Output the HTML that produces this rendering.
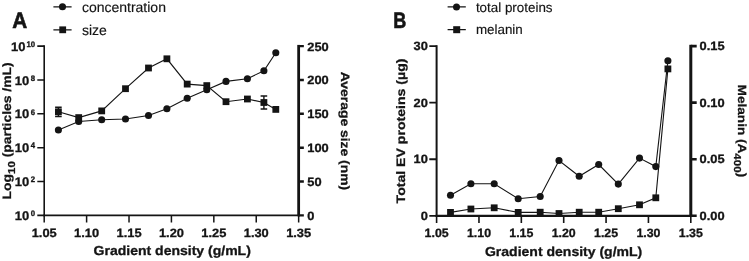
<!DOCTYPE html>
<html><head><meta charset="utf-8"><title>chart</title>
<style>
html,body{margin:0;padding:0;background:#fff;}
body{width:749px;height:261px;overflow:hidden;font-family:"Liberation Sans",sans-serif;}
svg{display:block;will-change:transform;opacity:0.999;}
text{font-family:"Liberation Sans",sans-serif;fill:#141414;text-rendering:geometricPrecision;}
.b,.t,.sp{stroke:#141414;stroke-width:0.3px;}
.pl{stroke:#141414;stroke-width:0.6px;}
.b{font-weight:bold;font-size:12px;}
.t{font-weight:bold;font-size:13px;}
.r{font-weight:bold;font-size:13.9px;stroke:#141414;stroke-width:0.3px;}
.lg{font-size:14px;stroke:#141414;stroke-width:0.15px;}
.pl{font-weight:bold;font-size:19.2px;}
</style></head><body>
<svg width="749" height="261" viewBox="0 0 749 261">
<rect width="749" height="261" fill="#fff"/>

<g stroke="#141414" fill="none"><path stroke-width="1.6" d="M44.2 45.30V216.20"/><path stroke-width="2.8" d="M298.65 44.90V216.20"/><path stroke-width="1.6" d="M43.40 215.4H300.05"/><path stroke-width="1.5" d="M44.20 215.4V222.6M86.61 215.4V222.6M129.02 215.4V222.6M171.42 215.4V222.6M213.83 215.4V222.6M256.24 215.4V222.6M298.65 215.4V222.6"/><path stroke-width="1.6" d="M37.300000000000004 46.10H44.2M37.300000000000004 79.96H44.2M37.300000000000004 113.82H44.2M37.300000000000004 147.68H44.2M37.300000000000004 181.54H44.2M37.300000000000004 215.40H44.2"/><path stroke-width="2.4" d="M298.65 46.10H303.84999999999997M298.65 79.96H303.84999999999997M298.65 113.82H303.84999999999997M298.65 147.68H303.84999999999997M298.65 181.54H303.84999999999997M298.65 215.40H303.84999999999997"/></g>
<text class="sp" transform="translate(35.1,46.85) scale(0.97,1)" text-anchor="end" font-weight="bold" font-size="8">10</text>
<text class="sp" transform="translate(25.50,50.75) scale(1.04,1)" text-anchor="end" font-weight="bold" font-size="12.5">10</text>
<text class="sp" transform="translate(35.1,80.71) scale(0.97,1)" text-anchor="end" font-weight="bold" font-size="8">8</text>
<text class="sp" transform="translate(29.20,84.61) scale(1.04,1)" text-anchor="end" font-weight="bold" font-size="12.5">10</text>
<text class="sp" transform="translate(35.1,114.57) scale(0.97,1)" text-anchor="end" font-weight="bold" font-size="8">6</text>
<text class="sp" transform="translate(29.20,118.47) scale(1.04,1)" text-anchor="end" font-weight="bold" font-size="12.5">10</text>
<text class="sp" transform="translate(35.1,148.43) scale(0.97,1)" text-anchor="end" font-weight="bold" font-size="8">4</text>
<text class="sp" transform="translate(29.20,152.33) scale(1.04,1)" text-anchor="end" font-weight="bold" font-size="12.5">10</text>
<text class="sp" transform="translate(35.1,182.29) scale(0.97,1)" text-anchor="end" font-weight="bold" font-size="8">2</text>
<text class="sp" transform="translate(29.20,186.19) scale(1.04,1)" text-anchor="end" font-weight="bold" font-size="12.5">10</text>
<text class="sp" transform="translate(35.1,216.15) scale(0.97,1)" text-anchor="end" font-weight="bold" font-size="8">0</text>
<text class="sp" transform="translate(29.20,220.05) scale(1.04,1)" text-anchor="end" font-weight="bold" font-size="12.5">10</text>
<text class="b" transform="translate(307.25,50.50) scale(1.07,1)" text-anchor="start">250</text>
<text class="b" transform="translate(307.25,84.36) scale(1.07,1)" text-anchor="start">200</text>
<text class="b" transform="translate(307.25,118.22) scale(1.07,1)" text-anchor="start">150</text>
<text class="b" transform="translate(307.25,152.08) scale(1.07,1)" text-anchor="start">100</text>
<text class="b" transform="translate(307.25,185.94) scale(1.07,1)" text-anchor="start">50</text>
<text class="b" transform="translate(307.25,219.80) scale(1.07,1)" text-anchor="start">0</text>
<text class="b" transform="translate(44.20,236.50) scale(1.07,1)" text-anchor="middle">1.05</text>
<text class="b" transform="translate(86.61,236.50) scale(1.07,1)" text-anchor="middle">1.10</text>
<text class="b" transform="translate(129.02,236.50) scale(1.07,1)" text-anchor="middle">1.15</text>
<text class="b" transform="translate(171.42,236.50) scale(1.07,1)" text-anchor="middle">1.20</text>
<text class="b" transform="translate(213.83,236.50) scale(1.07,1)" text-anchor="middle">1.25</text>
<text class="b" transform="translate(256.24,236.50) scale(1.07,1)" text-anchor="middle">1.30</text>
<text class="b" transform="translate(298.65,236.50) scale(1.07,1)" text-anchor="middle">1.35</text>
<text class="t" transform="translate(172.20,255.40) scale(1.078,1)" text-anchor="middle">Gradient density (g/mL)</text>
<text class="r" transform="translate(11.10,130.90) scale(0.87,1) rotate(-90)" text-anchor="middle">Log<tspan font-size="11.6" dy="4.2">10</tspan><tspan dy="-4.2"> (particles /mL)</tspan></text>
<text class="r" transform="translate(340.90,131.00) scale(0.87,1) rotate(90)" text-anchor="middle">Average size (nm)</text>
<text class="pl" style="font-size:22.3px" transform="translate(12.2,27.6) scale(0.93,1)">A</text>
<path d="M53.4 6.8H71.6M53.4 29.8H71.6" stroke="#141414" stroke-width="1.2"/>
<g fill="#141414"><circle cx="62.5" cy="6.8" r="3.55"/><rect x="59.30" y="26.40" width="6.8" height="6.8"/></g>
<text class="lg" x="81.9" y="12.0">concentration</text><text class="lg" x="81.9" y="35.1">size</text>
<g fill="none" stroke="#141414" stroke-width="1.1"><polyline points="58.4,130.0 78.7,121.5 101.7,119.8 125.5,119.0 148.5,115.5 166.9,108.8 187.2,98.3 206.8,89.8 226.0,81.4 247.4,78.7 263.9,70.7 275.8,52.7"/><polyline points="58.4,111.8 78.7,117.6 101.7,110.9 125.5,88.7 148.5,68.0 166.9,58.8 187.2,84.1 206.8,85.6 226.0,101.7 247.4,99.0 263.9,102.5 275.8,109.4"/></g>
<path d="M55.1 107.2H61.699999999999996M55.1 116.5H61.699999999999996M58.4 107.2V116.5" stroke="#141414" stroke-width="1.4" fill="none"/><path d="M260.59999999999997 96H267.2M260.59999999999997 109H267.2M263.9 96V109" stroke="#141414" stroke-width="1.4" fill="none"/>
<g fill="#141414"><circle cx="58.4" cy="130.0" r="3.55"/><circle cx="78.7" cy="121.5" r="3.55"/><circle cx="101.7" cy="119.8" r="3.55"/><circle cx="125.5" cy="119.0" r="3.55"/><circle cx="148.5" cy="115.5" r="3.55"/><circle cx="166.9" cy="108.8" r="3.55"/><circle cx="187.2" cy="98.3" r="3.55"/><circle cx="206.8" cy="89.8" r="3.55"/><circle cx="226.0" cy="81.4" r="3.55"/><circle cx="247.4" cy="78.7" r="3.55"/><circle cx="263.9" cy="70.7" r="3.55"/><circle cx="275.8" cy="52.7" r="3.55"/><rect x="55.00" y="108.40" width="6.8" height="6.8"/><rect x="75.30" y="114.20" width="6.8" height="6.8"/><rect x="98.30" y="107.50" width="6.8" height="6.8"/><rect x="122.10" y="85.30" width="6.8" height="6.8"/><rect x="145.10" y="64.60" width="6.8" height="6.8"/><rect x="163.50" y="55.40" width="6.8" height="6.8"/><rect x="183.80" y="80.70" width="6.8" height="6.8"/><rect x="203.40" y="82.20" width="6.8" height="6.8"/><rect x="222.60" y="98.30" width="6.8" height="6.8"/><rect x="244.00" y="95.60" width="6.8" height="6.8"/><rect x="260.50" y="99.10" width="6.8" height="6.8"/><rect x="272.40" y="106.00" width="6.8" height="6.8"/></g>
<g stroke="#141414" fill="none"><path stroke-width="2.0" d="M436.6 45.20V216.90"/><path stroke-width="3.0" d="M690.8 44.80V216.90"/><path stroke-width="2.2" d="M435.60 215.8H692.30"/><path stroke-width="1.6" d="M436.60 215.8V223.0M478.97 215.8V223.0M521.33 215.8V223.0M563.70 215.8V223.0M606.07 215.8V223.0M648.43 215.8V223.0M690.80 215.8V223.0"/><path stroke-width="1.8" d="M429.3 46.10H436.6M429.3 102.67H436.6M429.3 159.23H436.6M429.3 215.80H436.6"/><path stroke-width="2.6" d="M690.8 46.10H696.6999999999999M690.8 102.67H696.6999999999999M690.8 159.23H696.6999999999999M690.8 215.80H696.6999999999999"/></g>
<text class="b" transform="translate(427.80,50.20) scale(1.07,1)" text-anchor="end">30</text>
<text class="b" transform="translate(427.80,106.77) scale(1.07,1)" text-anchor="end">20</text>
<text class="b" transform="translate(427.80,163.33) scale(1.07,1)" text-anchor="end">10</text>
<text class="b" transform="translate(427.80,219.90) scale(1.07,1)" text-anchor="end">0</text>
<text class="b" transform="translate(699.60,50.10) scale(1.07,1)" text-anchor="start">0.15</text>
<text class="b" transform="translate(699.60,106.67) scale(1.07,1)" text-anchor="start">0.10</text>
<text class="b" transform="translate(699.60,163.23) scale(1.07,1)" text-anchor="start">0.05</text>
<text class="b" transform="translate(699.60,219.80) scale(1.07,1)" text-anchor="start">0.00</text>
<text class="b" transform="translate(436.60,236.90) scale(1.03,1)" text-anchor="middle">1.05</text>
<text class="b" transform="translate(478.97,236.90) scale(1.03,1)" text-anchor="middle">1.10</text>
<text class="b" transform="translate(521.33,236.90) scale(1.03,1)" text-anchor="middle">1.15</text>
<text class="b" transform="translate(563.70,236.90) scale(1.03,1)" text-anchor="middle">1.20</text>
<text class="b" transform="translate(606.07,236.90) scale(1.03,1)" text-anchor="middle">1.25</text>
<text class="b" transform="translate(648.43,236.90) scale(1.03,1)" text-anchor="middle">1.30</text>
<text class="b" transform="translate(690.80,236.90) scale(1.03,1)" text-anchor="middle">1.35</text>
<text class="t" transform="translate(563.60,256.20) scale(1.078,1)" text-anchor="middle">Gradient density (g/mL)</text>
<text class="r" transform="translate(404.60,131.00) scale(0.87,1) rotate(-90)" text-anchor="middle"><tspan font-size="14.1">Total EV proteins (µg)</tspan></text>
<text class="r" transform="translate(737.50,130.90) scale(0.87,1) rotate(90)" text-anchor="middle"><tspan font-size="13.6">Melanin (A</tspan><tspan font-size="11.6" dy="3.6">400</tspan><tspan font-size="13.6" dy="-3.6">)</tspan></text>
<text class="pl" style="font-size:22.3px" transform="translate(393.2,28.4) scale(0.81,1)">B</text>
<path d="M447.6 6.9H465.8M447.6 29.7H465.8" stroke="#141414" stroke-width="1.2"/>
<g fill="#141414"><circle cx="456.5" cy="6.9" r="3.5"/><rect x="453.20" y="26.20" width="7.0" height="7.0"/></g>
<text class="lg" font-size="13.4" style="font-size:13.4px" x="475.9" y="11.6">total proteins</text><text class="lg" style="font-size:13.4px" x="475.9" y="34.3">melanin</text>
<g fill="none" stroke="#141414" stroke-width="1.1"><polyline points="450.5,195.2 470.9,183.7 494.2,183.7 518.2,198.8 540.2,196.5 559.0,160.5 579.2,176.3 598.7,164.5 618.3,184.1 639.5,158.1 655.8,166.6 667.9,60.7"/><polyline points="450.5,212.4 470.9,209.0 494.2,207.8 518.2,212.4 540.2,212.2 559.0,213.5 579.2,212.2 598.7,212.2 618.3,208.7 639.5,204.8 655.8,197.8 667.9,68.9"/></g>
<g fill="#141414"><circle cx="450.5" cy="195.2" r="3.55"/><circle cx="470.9" cy="183.7" r="3.55"/><circle cx="494.2" cy="183.7" r="3.55"/><circle cx="518.2" cy="198.8" r="3.55"/><circle cx="540.2" cy="196.5" r="3.55"/><circle cx="559.0" cy="160.5" r="3.55"/><circle cx="579.2" cy="176.3" r="3.55"/><circle cx="598.7" cy="164.5" r="3.55"/><circle cx="618.3" cy="184.1" r="3.55"/><circle cx="639.5" cy="158.1" r="3.55"/><circle cx="655.8" cy="166.6" r="3.55"/><circle cx="667.9" cy="60.7" r="3.55"/><rect x="447.10" y="209.00" width="6.8" height="6.8"/><rect x="467.50" y="205.60" width="6.8" height="6.8"/><rect x="490.80" y="204.40" width="6.8" height="6.8"/><rect x="514.80" y="209.00" width="6.8" height="6.8"/><rect x="536.80" y="208.80" width="6.8" height="6.8"/><rect x="555.60" y="210.10" width="6.8" height="6.8"/><rect x="575.80" y="208.80" width="6.8" height="6.8"/><rect x="595.30" y="208.80" width="6.8" height="6.8"/><rect x="614.90" y="205.30" width="6.8" height="6.8"/><rect x="636.10" y="201.40" width="6.8" height="6.8"/><rect x="652.40" y="194.40" width="6.8" height="6.8"/><rect x="664.50" y="65.50" width="6.8" height="6.8"/></g>
</svg></body></html>
